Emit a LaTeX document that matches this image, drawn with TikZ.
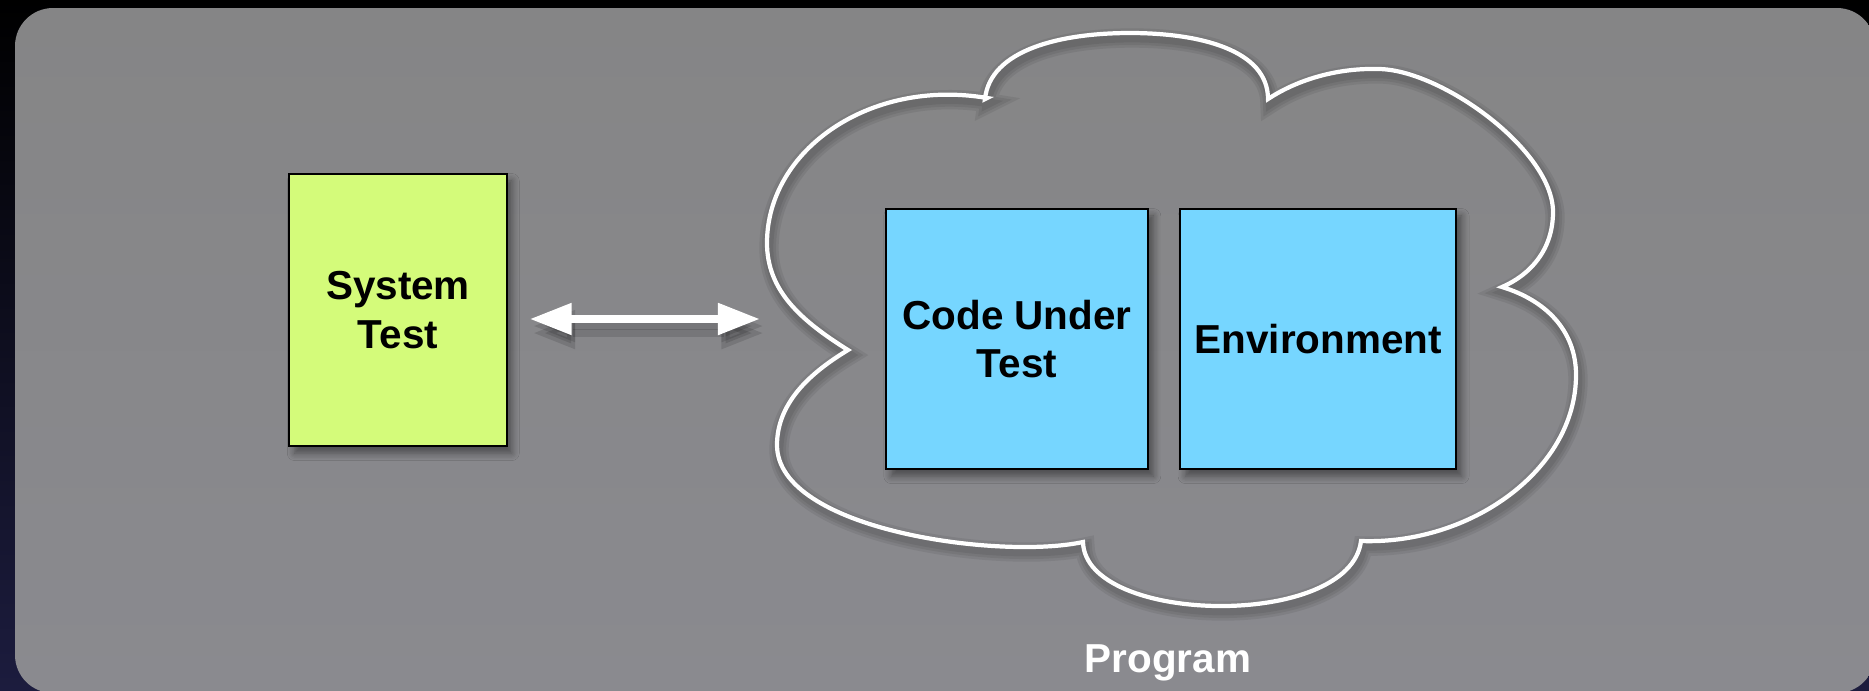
\documentclass[tikz,border=0pt]{standalone}
\usepackage{fontspec}
\setmainfont{Liberation Sans}
\usetikzlibrary{arrows.meta, positioning, shadows.blur}

\definecolor{panelgray}{RGB}{135,135,138}
\definecolor{testgreen}{RGB}{212,251,122}
\definecolor{codeblue}{RGB}{118,214,255}
\definecolor{nightblue}{RGB}{28,28,62}

\newcommand{\boxfont}{\fontsize{11.5}{13.7}\selectfont\bfseries}
\newcommand{\cloudoutline}{(985,99) .. controls (990,50) and (1060,33) .. (1130,33)
  .. controls (1200,33) and (1268,50) .. (1268,99)
  .. controls (1300,78) and (1340,68) .. (1378,69)
  .. controls (1440,69) and (1553,150) .. (1553,212)
  .. controls (1553,250) and (1530,275) .. (1502,287)
  .. controls (1545,300) and (1576,330) .. (1576,375)
  .. controls (1576,470) and (1470,545) .. (1361,541)
  .. controls (1350,630) and (1085,625) .. (1083,542)
  .. controls (1000,560) and (777,530) .. (777,445)
  .. controls (777,400) and (815,370) .. (848,350)
  .. controls (800,320) and (767,290) .. (767,243)
  .. controls (767,150) and (870,78) .. (987,98) -- cycle}

\begin{document}
\begin{tikzpicture}[
    x=0.01cm, y=-0.01cm,
    probe/.style={
        draw=black, line width=0.6pt, fill=testgreen, align=center,
        minimum width=2.17cm, minimum height=2.72cm, font=\boxfont,
        blur shadow={shadow xshift=1.5pt, shadow yshift=-2pt, shadow opacity=45, shadow blur steps=6}
    },
    unit/.style={
        draw=black, line width=0.6pt, fill=codeblue, align=center,
        minimum height=2.6cm, font=\boxfont,
        blur shadow={shadow xshift=1.5pt, shadow yshift=-2pt, shadow opacity=45, shadow blur steps=6}
    },
    duplex/.style={{Triangle[length=4.2mm, width=3mm]}-{Triangle[length=4.2mm, width=3mm]}, white, line width=0.08cm},
    cloudline/.style={draw=white, line width=1.2pt},
    cloudshade/.style={draw=black, opacity=0.07}
]

% backdrop and panel
\useasboundingbox (0,0) rectangle (1869,690);
\clip (0,0) rectangle (1869,690);
\shade[top color=black, bottom color=nightblue] (0,0) rectangle (1869,690);
\shade[rounded corners=0.38cm, top color={rgb,255:red,133;green,133;blue,134}, bottom color={rgb,255:red,138;green,138;blue,143}] (15,8) rectangle (1875,693);

% the program cloud, soft shadow first
\foreach \w in {5.5pt,4pt,2.5pt}
    \draw[cloudshade, line width=\w, shift={(2,5)}] \cloudoutline;
\draw[cloudline] \cloudoutline;

\node[probe] (systest) at (398,310) {System\\Test};
\node[unit, minimum width=2.62cm] (cut) at (1017,339) {Code Under\\Test};
\node[unit, minimum width=2.76cm, right=0.3cm of cut] (env) {Environment};
\node[font=\boxfont, text=white] (prog) at (1168,663) {Program};

\coordinate (cloudgate) at (760,319);
\foreach \dy in {-2pt,-4pt}
    \draw[duplex, draw=black, opacity=0.12, shorten <=0.22cm, transform canvas={shift={(1pt,\dy)}}] (systest.east |- cloudgate) -- (cloudgate);
\draw[duplex, shorten <=0.22cm] (systest.east |- cloudgate) -- (cloudgate);

\end{tikzpicture}
\end{document}
